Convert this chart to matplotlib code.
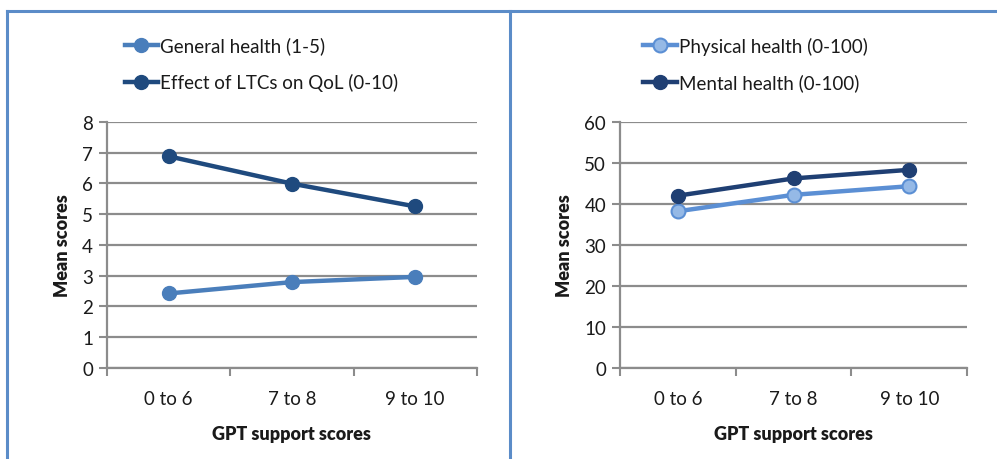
import matplotlib.pyplot as plt
from matplotlib.lines import Line2D
from matplotlib.ticker import FixedLocator, NullFormatter

plt.rcParams['font.family'] = ['Lato', 'DejaVu Sans']

groups = ['0 to 6', '7 to 8', '9 to 10']

# left panel
general_health = [2.42, 2.79, 2.96]
ltc_effect = [6.88, 5.99, 5.25]

# right panel
physical_health = [38.2, 42.2, 44.3]
mental_health = [42.0, 46.2, 48.3]

grid_col = '#8c8c8c'
text_col = '#1a1a1a'

fig = plt.figure(figsize=(9.97, 4.6), dpi=100)

ax1 = fig.add_axes([0.1073, 0.198, 0.371, 0.535])
ax2 = fig.add_axes([0.622, 0.198, 0.348, 0.535])

x = [0.5, 1.5, 2.5]


def style_axis(ax, ymax, step):
    ax.set_xlim(0, 3)
    ax.set_ylim(0, ymax)
    ax.set_yticks(range(0, ymax + 1, step))
    ax.set_xticks(x)
    ax.set_xticklabels(groups)
    ax.xaxis.set_minor_locator(FixedLocator([0, 1, 2, 3]))
    ax.xaxis.set_minor_formatter(NullFormatter())
    ax.tick_params(axis='x', which='major', length=0, pad=16,
                   labelsize=13.5, labelcolor=text_col)
    ax.tick_params(axis='x', which='minor', length=6, width=1.5,
                   color=grid_col, direction='out')
    ax.tick_params(axis='y', length=6, width=1.5, color=grid_col,
                   labelsize=13.5, labelcolor=text_col, pad=4)
    ax.grid(axis='y', color=grid_col, linewidth=1.6)
    ax.set_axisbelow(True)
    for s in ['top', 'right']:
        ax.spines[s].set_visible(False)
    for s in ['left', 'bottom']:
        ax.spines[s].set_color(grid_col)
        ax.spines[s].set_linewidth(1.6)
    ax.set_xlabel('GPT support scores', fontsize=13, fontweight='heavy',
                  color=text_col, labelpad=13)
    ax.set_ylabel('Mean scores', fontsize=13, fontweight='heavy',
                  color=text_col, labelpad=8)


ax1.plot(x, general_health, color='#4a7ebb', lw=3.2, marker='o', ms=10,
         mfc='#4a7ebb', mec='#4a7ebb', label='General health (1-5)', clip_on=False)
ax1.plot(x, ltc_effect, color='#1f4a7e', lw=3.2, marker='o', ms=10,
         mfc='#1f4a7e', mec='#1f4a7e', label='Effect of LTCs on QoL (0-10)', clip_on=False)
style_axis(ax1, 8, 1)

ax2.plot(x, physical_health, color='#5b8fd4', lw=3.2, marker='o', ms=10,
         mfc='#95b9e6', mec='#5b8fd4', mew=1.5, label='Physical health (0-100)', clip_on=False)
ax2.plot(x, mental_health, color='#1f3f73', lw=3.2, marker='o', ms=10,
         mfc='#1f3f73', mec='#1f3f73', label='Mental health (0-100)', clip_on=False)
style_axis(ax2, 60, 10)

leg_kw = dict(frameon=False, fontsize=13.5, handlelength=1.8, handletextpad=0.1,
              labelspacing=1.0, labelcolor=text_col)
fig.legend(*ax1.get_legend_handles_labels(), loc='upper left',
           bbox_to_anchor=(0.108, 0.955), **leg_kw)
fig.legend(*ax2.get_legend_handles_labels(), loc='upper left',
           bbox_to_anchor=(0.628, 0.955), **leg_kw)

# panel frame
border = '#5b8cc8'
fig.add_artist(Line2D([0.0075, 1.0], [0.973, 0.973], color=border, lw=2.2,
                      transform=fig.transFigure))
fig.add_artist(Line2D([0.0075, 0.0075], [0.0, 0.973], color=border, lw=2.2,
                      transform=fig.transFigure))
fig.add_artist(Line2D([0.5115, 0.5115], [0.0, 0.973], color=border, lw=2.2,
                      transform=fig.transFigure))

fig.savefig('out.png', dpi=100)
